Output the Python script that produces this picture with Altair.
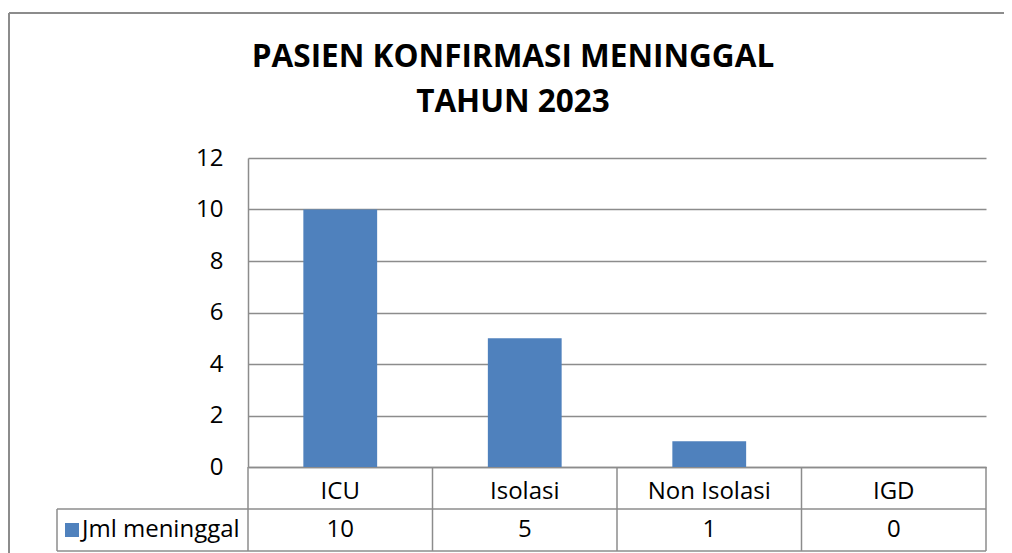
import altair as alt
import pandas as pd

categories = ["ICU", "Isolasi", "Non Isolasi", "IGD"]
values = [10, 5, 1, 0]
series_name = "Jml meninggal"
title_lines = ["PASIEN KONFIRMASI MENINGGAL", "TAHUN 2023"]
y_ticks = [0, 2, 4, 6, 8, 10, 12]

df = pd.DataFrame({"cat": categories, "val": values})
one = pd.DataFrame({"k": [0]})

W, H = 738, 309
ROW1, ROW2 = 351, 393
LEFT_CELL = -191
GRAY = "#8c8c8c"
BLUE = "#4f81bd"
FONT = "Open Sans"
FS = 24
LW = 1.5

xenc = alt.X(
    "cat:N", sort=categories,
    scale=alt.Scale(paddingInner=0, paddingOuter=0),
    axis=alt.Axis(title=None, labelFontSize=FS, labelFont=FONT, labelColor="black",
                  labelPadding=24, labelBaseline="middle", ticks=False,
                  domainColor=GRAY, domainWidth=LW, labelAngle=0),
)
yenc = alt.Y(
    "val:Q",
    scale=alt.Scale(domain=[0, 12], nice=False),
    axis=alt.Axis(title=None, values=y_ticks, labelFontSize=FS, labelFont=FONT,
                  labelColor="black", ticks=False, labelPadding=25, grid=True,
                  gridColor=GRAY, gridWidth=LW, domainColor=GRAY, domainWidth=LW),
)

base = alt.Chart(df)
bars = base.mark_bar(color=BLUE, width=alt.RelativeBandSize(0.4)).encode(x=xenc, y=yenc)

vals = base.mark_text(fontSize=FS, font=FONT, color="black").encode(
    x=xenc, y=alt.value(372), text="val:Q")

vlines = base.mark_rule(color=GRAY, strokeWidth=LW).encode(
    x=alt.X("cat:N", sort=categories, bandPosition=0, title=None),
    y=alt.value(H), y2=alt.value(ROW2))

deco = alt.Chart(one)
right_line = deco.mark_rule(color=GRAY, strokeWidth=LW).encode(
    x=alt.value(W), y=alt.value(H), y2=alt.value(ROW2))
h1 = deco.mark_rule(color=GRAY, strokeWidth=LW).encode(
    x=alt.value(LEFT_CELL), x2=alt.value(W), y=alt.value(ROW1))
h2 = deco.mark_rule(color=GRAY, strokeWidth=LW).encode(
    x=alt.value(LEFT_CELL), x2=alt.value(W), y=alt.value(ROW2))
lv = deco.mark_rule(color=GRAY, strokeWidth=LW).encode(
    x=alt.value(LEFT_CELL), y=alt.value(ROW1), y2=alt.value(ROW2))
border_top = deco.mark_rule(color=GRAY, strokeWidth=2).encode(
    x=alt.value(-239), x2=alt.value(780), y=alt.value(-145))
border_left = deco.mark_rule(color=GRAY, strokeWidth=2).encode(
    x=alt.value(-239), y=alt.value(-145), y2=alt.value(420))

leg_sq = deco.mark_square(size=196, color=BLUE, opacity=1).encode(
    x=alt.value(-176), y=alt.value(372))
leg_tx = deco.mark_text(align="left", fontSize=FS, font=FONT, color="black").encode(
    x=alt.value(-166), y=alt.value(372), text=alt.value(series_name))

TFS = 31.5
t1 = deco.mark_text(fontSize=TFS, font=FONT, fontWeight="bold", color="black").encode(
    x=alt.value(265), y=alt.value(-100), text=alt.value(title_lines[0]))
t2 = deco.mark_text(fontSize=TFS, font=FONT, fontWeight="bold", color="black").encode(
    x=alt.value(265), y=alt.value(-55), text=alt.value(title_lines[1]))

chart = alt.layer(
    bars, vals, vlines, right_line, h1, h2, lv, border_top, border_left,
    leg_sq, leg_tx, t1, t2
).properties(
    width=W, height=H,
    autosize=alt.AutoSizeParams(type="none"),
    padding={"left": 240, "top": 150, "right": 18, "bottom": 86},
    background="white",
).configure_view(stroke=None)

chart.save("out.html", embed_options={"renderer": "svg", "actions": False})
